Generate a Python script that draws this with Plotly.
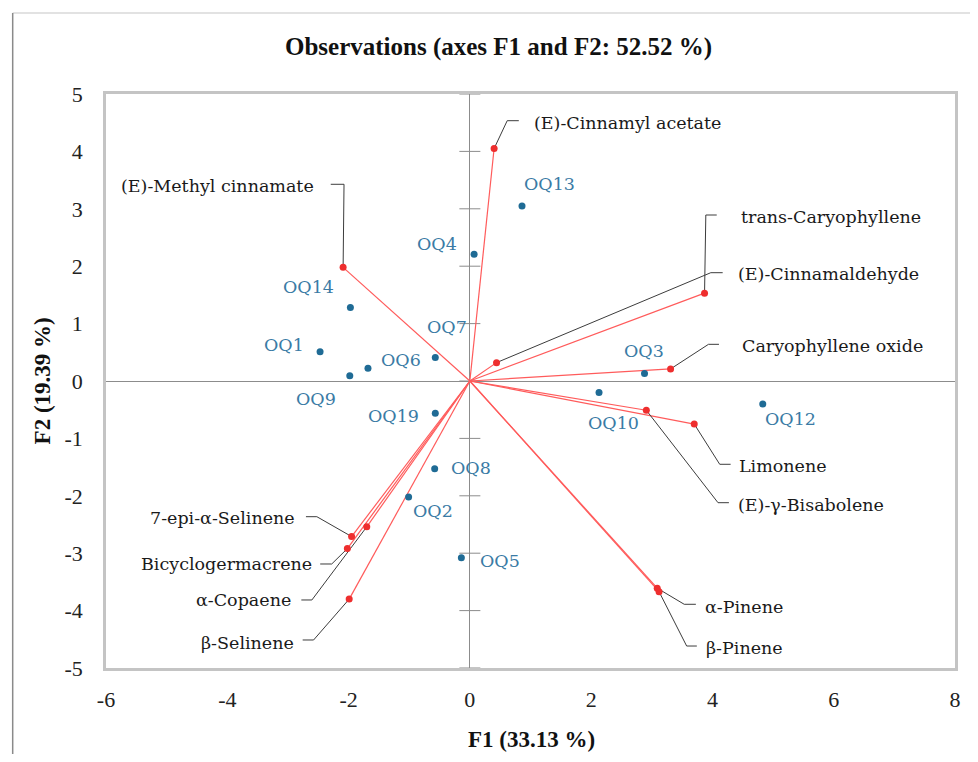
import plotly.graph_objects as go

# ---------------- data ----------------
obs_names = ["OQ13", "OQ4", "OQ14", "OQ7", "OQ1", "OQ6", "OQ9", "OQ19",
             "OQ8", "OQ2", "OQ5", "OQ3", "OQ10", "OQ12"]
obs_f1 = [0.86, 0.07, -1.97, -0.57, -2.47, -1.68, -1.98, -0.57,
          -0.58, -1.01, -0.14, 2.88, 2.13, 4.83]
obs_f2 = [3.05, 2.21, 1.28, 0.41, 0.51, 0.22, 0.09, -0.56,
          -1.53, -2.02, -3.08, 0.13, -0.20, -0.40]

var_names = ["(E)-Cinnamyl acetate", "(E)-Methyl cinnamate", "trans-Caryophyllene",
             "(E)-Cinnamaldehyde", "Caryophyllene oxide", "Limonene",
             "(E)-γ-Bisabolene", "α-Pinene", "β-Pinene", "7-epi-α-Selinene",
             "Bicyclogermacrene", "α-Copaene", "β-Selinene"]
var_f1 = [0.40, -2.09, 3.87, 0.44, 3.31, 3.70, 2.91, 3.09, 3.12, -1.95, -2.02, -1.70, -1.99]
var_f2 = [4.05, 1.98, 1.53, 0.32, 0.21, -0.75, -0.51, -3.61, -3.67, -2.71, -2.92, -2.54, -3.80]

x_ticks = [-6, -4, -2, 0, 2, 4, 6, 8]
y_ticks = [-5, -4, -3, -2, -1, 0, 1, 2, 3, 4, 5]

# ---------------- label layout (positions of labels, not data) ----------------
# observation labels: centre of text
obs_label_pos = {
    "OQ13": (1.312, 3.432), "OQ4": (-0.55, 2.38), "OQ14": (-2.664, 1.632),
    "OQ7": (-0.383, 0.935), "OQ1": (-3.069, 0.627), "OQ6": (-1.136, 0.366),
    "OQ9": (-2.541, -0.319), "OQ19": (-1.264, -0.61), "OQ8": (0.018, -1.521),
    "OQ2": (-0.60, -2.26), "OQ5": (0.501, -3.13), "OQ3": (2.872, 0.528),
    "OQ10": (2.363, -0.726), "OQ12": (5.283, -0.668),
}
# variable labels: elbow of leader, end of leader, text anchor, side
var_label_layout = {
    "(E)-Cinnamyl acetate": ((0.616, 4.535), (0.807, 4.535), (1.025, 4.50), "left"),
    "(E)-Methyl cinnamate": ((-2.075, 3.427), (-2.294, 3.427), (-2.545, 3.40), "right"),
    "trans-Caryophyllene": ((3.891, 2.892), (4.071, 2.892), (4.436, 2.86), "left"),
    "(E)-Cinnamaldehyde": ((3.973, 1.887), (4.169, 1.887), (4.382, 1.864), "left"),
    "Caryophyllene oxide": ((3.935, 0.639), (4.108, 0.639), (4.447, 0.61), "left"),
    "Limonene": ((4.12, -1.451), (4.30, -1.451), (4.41, -1.48), "left"),
    "(E)-γ-Bisabolene": ((4.092, -2.12), (4.272, -2.12), (4.393, -2.16), "left"),
    "α-Pinene": ((3.535, -3.89), (3.727, -3.89), (3.837, -3.94), "left"),
    "β-Pinene": ((3.575, -4.617), (3.743, -4.617), (3.858, -4.65), "left"),
    "7-epi-α-Selinene": ((-2.523, -2.364), (-2.703, -2.364), (-2.856, -2.39), "right"),
    "Bicyclogermacrene": ((-2.278, -3.188), (-2.468, -3.188), (-2.577, -3.19), "right"),
    "α-Copaene": ((-2.605, -3.815), (-2.779, -3.815), (-2.92, -3.815), "right"),
    "β-Selinene": ((-2.577, -4.512), (-2.757, -4.512), (-2.867, -4.56), "right"),
}

RED_LINE = "#FF5B5B"
RED_DOT = "#EE2E2E"
BLUE_DOT = "#1F6B95"
BLUE_TXT = "#3A7BA5"
LEADER = "#3C3C3C"
LABEL_FONT = "DejaVu Serif"
SERIF = "Liberation Serif"

fig = go.Figure()

# vertical axis cross ticks at x = 0
fig.add_trace(go.Scatter(
    x=[0] * len(y_ticks), y=y_ticks, mode="markers",
    marker=dict(symbol="line-ew", size=15, line=dict(width=1, color="#8C8C8C")),
    hoverinfo="skip", showlegend=False))

# red vectors from origin
vx, vy = [], []
for a, b in zip(var_f1, var_f2):
    vx += [0, a, None]
    vy += [0, b, None]
fig.add_trace(go.Scatter(x=vx, y=vy, mode="lines",
                         line=dict(color=RED_LINE, width=1.2),
                         hoverinfo="skip", showlegend=False))

# leader lines
lx, ly = [], []
for name, a, b in zip(var_names, var_f1, var_f2):
    elbow, end, _, _ = var_label_layout[name]
    lx += [a, elbow[0], end[0], None]
    ly += [b, elbow[1], end[1], None]
fig.add_trace(go.Scatter(x=lx, y=ly, mode="lines",
                         line=dict(color=LEADER, width=1),
                         hoverinfo="skip", showlegend=False))

# variable points
fig.add_trace(go.Scatter(x=var_f1, y=var_f2, mode="markers",
                         marker=dict(color=RED_DOT, size=7),
                         text=var_names, showlegend=False))

# observation points
fig.add_trace(go.Scatter(x=obs_f1, y=obs_f2, mode="markers",
                         marker=dict(color=BLUE_DOT, size=7),
                         text=obs_names, showlegend=False))

annotations = []
for name in obs_names:
    px, py = obs_label_pos[name]
    annotations.append(dict(x=px, y=py, xref="x", yref="y", text=name,
                            showarrow=False, xanchor="center", yanchor="middle",
                            font=dict(family=LABEL_FONT, size=17.5, color=BLUE_TXT)))
for name in var_names:
    _, _, (tx, ty), side = var_label_layout[name]
    annotations.append(dict(x=tx, y=ty, xref="x", yref="y", text=name,
                            showarrow=False, xanchor=side, yanchor="middle",
                            font=dict(family=LABEL_FONT, size=17.5, color="#1a1a1a")))

# title and axis titles
annotations.append(dict(x=0.462, y=1.082, xref="paper", yref="paper",
                        text="<b>Observations (axes F1 and F2: 52.52 %)</b>",
                        showarrow=False, xanchor="center", yanchor="middle",
                        font=dict(family=SERIF, size=25, color="#111111")))
annotations.append(dict(x=0.5006, y=-0.125, xref="paper", yref="paper",
                        text="<b>F1 (33.13 %)</b>", showarrow=False,
                        xanchor="center", yanchor="middle",
                        font=dict(family=SERIF, size=23, color="#111111")))
annotations.append(dict(x=-0.0749, y=0.5, xref="paper", yref="paper",
                        text="<b>F2 (19.39 %)</b>", showarrow=False, textangle=-90,
                        xanchor="center", yanchor="middle",
                        font=dict(family=SERIF, size=23, color="#111111")))

shapes = [
    dict(type="line", xref="paper", yref="paper", x0=-0.1099, x1=1.03, y0=1.1411, y1=1.1411,
         line=dict(color="#D9D9D9", width=1.5)),
    dict(type="line", xref="paper", yref="paper", x0=-0.1099, x1=-0.1099, y0=1.1411, y1=-0.18,
         line=dict(color="#8A8A8A", width=1.5)),
]

fig.update_layout(
    width=962, height=746,
    margin=dict(l=98, r=9, t=86, b=86),
    paper_bgcolor="white", plot_bgcolor="white",
    annotations=annotations, shapes=shapes,
    showlegend=False,
    xaxis=dict(range=[-6, 8], tickvals=x_ticks, ticktext=[str(v) for v in x_ticks],
               showgrid=False, zeroline=True, zerolinecolor="#8C8C8C", zerolinewidth=1.2,
               showline=True, mirror=True, linecolor="#C4C4C4", linewidth=2.5,
               ticks="", ticklabelstandoff=10,
               tickfont=dict(family=SERIF, size=22, color="#222222")),
    yaxis=dict(range=[-5, 5], tickvals=y_ticks, ticktext=[str(v) for v in y_ticks],
               showgrid=False, zeroline=True, zerolinecolor="#8C8C8C", zerolinewidth=1.2,
               showline=True, mirror=True, linecolor="#C4C4C4", linewidth=2.5,
               ticks="", ticklabelstandoff=16,
               tickfont=dict(family=SERIF, size=22, color="#222222")),
)

fig.write_html("out.html")
